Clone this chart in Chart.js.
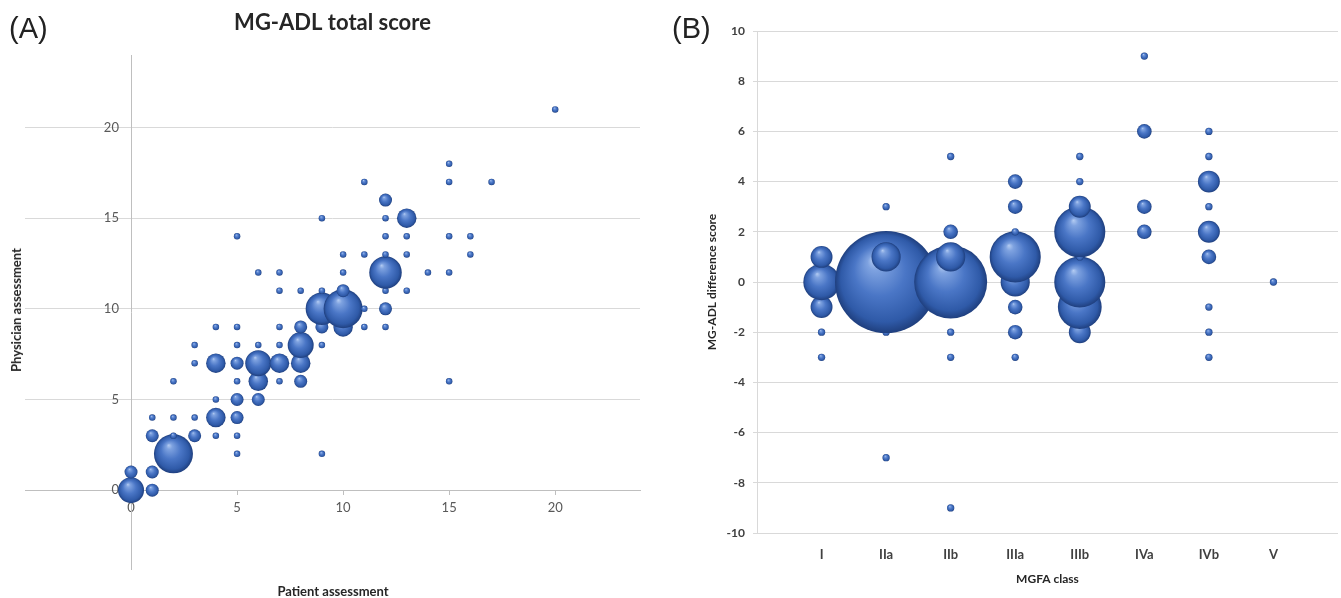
<!DOCTYPE html>
<html>
<head>
<meta charset="utf-8">
<script src="https://cdn.jsdelivr.net/npm/chart.js@4.4.1/dist/chart.umd.min.js"></script>
<style>
  html, body { margin: 0; padding: 0; background: #fff; }
  body { width: 1341px; height: 598px; position: relative; overflow: hidden; }
  .panel { position: absolute; top: 0; height: 598px; }
  #panelA { left: 0; width: 670px; }
  #panelB { left: 670px; width: 671px; }
  .tag { position: absolute; top: 14px; font: 29px 'Liberation Sans', Arial, sans-serif; color: #222; line-height: 1; }
  .axis-title { position: absolute; font: bold 13px Lato, sans-serif; color: #262626; white-space: nowrap; transform: translate(-50%, -50%); }
  .axis-title.vert { transform: translate(-50%, -50%) rotate(-90deg); }
</style>
</head>
<body>
<div class="panel" id="panelA"><canvas id="chartA"></canvas></div>
<div class="panel" id="panelB"><canvas id="chartB"></canvas></div>

<div class="tag" style="left:9px">(A)</div>
<div class="tag" style="left:672px">(B)</div>
<div class="axis-title vert" style="left:16px; top:310px">Physician assessment</div>
<div class="axis-title" style="left:333px; top:591px">Patient assessment</div>

<script>
// ── PANEL A: patient vs physician MG-ADL total score (bubble = number of patients) ──
const patientScore = [
    0, 0,
    1, 1, 1, 1,
    2, 2, 2, 2,
    3, 3, 3, 3,
    4, 4, 4, 4, 4,
    5, 5, 5, 5, 5, 5, 5, 5, 5,
    6, 6, 6, 6, 6,
    7, 7, 7, 7, 7, 7,
    8, 8, 8, 8, 8,
    9, 9, 9, 9, 9, 9,
    10, 10, 10, 10, 10,
    11, 11, 11, 11,
    12, 12, 12, 12, 12, 12, 12, 12,
    13, 13, 13, 13,
    14,
    15, 15, 15, 15, 15,
    16, 16,
    17,
    20
];
const physicianScore = [
    0, 1,
    0, 1, 3, 4,
    2, 3, 4, 6,
    3, 4, 7, 8,
    3, 4, 5, 7, 9,
    2, 3, 4, 5, 6, 7, 8, 9, 14,
    5, 6, 7, 8, 12,
    6, 7, 8, 9, 11, 12,
    6, 7, 8, 9, 11,
    2, 8, 9, 10, 11, 15,
    9, 10, 11, 12, 13,
    9, 10, 13, 17,
    9, 10, 11, 12, 13, 14, 15, 16,
    11, 13, 14, 15,
    12,
    6, 12, 14, 17, 18,
    13, 14,
    17,
    21
];
const patientCount = [
    4, 2,
    2, 2, 2, 1,
    6, 1, 1, 1,
    2, 1, 1, 1,
    1, 3, 1, 3, 1,
    1, 1, 2, 2, 1, 2, 1, 1, 1,
    2, 3, 4, 1, 1,
    1, 3, 1, 1, 1, 1,
    2, 3, 4, 2, 1,
    1, 1, 2, 5, 1, 1,
    3, 6, 2, 1, 1,
    1, 1, 1, 1,
    1, 2, 1, 5, 1, 1, 1, 2,
    1, 1, 1, 3,
    1,
    1, 1, 1, 1, 1,
    1, 1,
    1,
    1
];
const totalTicks = [0, 5, 10, 15, 20];

// ── PANEL B: MG-ADL difference score by MGFA class ──
const mgfaClasses = ['I', 'IIa', 'IIb', 'IIIa', 'IIIb', 'IVa', 'IVb', 'V'];
const diffClass = [
    1, 1, 1, 1, 1,
    2, 2, 2, 2, 2,
    3, 3, 3, 3, 3, 3, 3,
    4, 4, 4, 4, 4, 4, 4, 4,
    5, 5, 5, 5, 5, 5, 5, 5,
    6, 6, 6, 6,
    7, 7, 7, 7, 7, 7, 7, 7, 7,
    8
];
const diffScore = [
    -3, -2, -1, 0, 1,
    -7, -2, 0, 1, 3,
    -9, -3, -2, 0, 1, 2, 5,
    -3, -2, -1, 0, 1, 2, 3, 4,
    -2, -1, 0, 1, 2, 3, 4, 5,
    2, 3, 6, 9,
    -3, -2, -1, 1, 2, 3, 4, 5, 6,
    0
];
const diffCount = [
    1, 1, 3, 5, 3,
    1, 1, 14, 4, 1,
    1, 1, 1, 10, 4, 2, 1,
    1, 2, 2, 4, 7, 1, 2, 2,
    3, 6, 7, 1, 7, 3, 1, 1,
    2, 2, 2, 1,
    1, 1, 1, 2, 3, 1, 3, 1, 1,
    1
];

// bubble width is proportional to the count (Excel "width" sizing)
const radiusA = 3.25;
const radiusB = 3.65;

const pointsA = patientScore.map((x, i) => ({ x: x, y: physicianScore[i], r: patientCount[i] * radiusA }));
const pointsB = diffClass.map((x, i) => ({ x: x, y: diffScore[i], r: diffCount[i] * radiusB }));

// glossy 3D sphere look
function sphereFill(context) {
    const chart = context.chart;
    const raw = context.raw;
    if (!raw || !chart.chartArea) return '#3e6bbd';
    const cx = chart.scales.x.getPixelForValue(raw.x);
    const cy = chart.scales.y.getPixelForValue(raw.y);
    const r = raw.r;
    const g = chart.ctx.createRadialGradient(cx - r * 0.25, cy - r * 0.45, 0, cx, cy, r);
    g.addColorStop(0, '#b4ccf2');
    g.addColorStop(0.15, '#7ea2e0');
    g.addColorStop(0.5, '#4a76c6');
    g.addColorStop(0.85, '#2f5aa8');
    g.addColorStop(1, '#1f3f7e');
    return g;
}

const baseFont = "Lato, 'Open Sans', sans-serif";

// ── CHART A ──
new Chart(document.getElementById('chartA'), {
    type: 'bubble',
    data: {
        datasets: [{ data: pointsA, backgroundColor: sphereFill, borderWidth: 0 }]
    },
    options: {
        responsive: true,
        maintainAspectRatio: false,
        animation: false,
        events: [],
        layout: { autoPadding: false, padding: { left: 25, right: 30, top: 0, bottom: 29 } },
        plugins: {
            legend: { display: false },
            tooltip: { enabled: false },
            title: {
                display: true,
                text: 'MG-ADL total score',
                color: '#262626',
                font: { family: baseFont, size: 22, weight: 'bold', lineHeight: 1.2 },
                padding: { top: 10, bottom: 18.6 }
            }
        },
        scales: {
            x: {
                type: 'linear',
                min: -5,
                max: 24,
                position: { y: 0 },
                afterBuildTicks: axis => { axis.ticks = totalTicks.map(v => ({ value: v })); },
                grid: { drawOnChartArea: false, drawTicks: true, tickLength: 4, color: '#bfbfbf' },
                border: { color: '#bfbfbf', width: 1 },
                ticks: { color: '#595959', font: { family: baseFont, size: 13 }, padding: 6, maxRotation: 0, autoSkip: false }
            },
            // axis line, tick marks and grid through x = 0
            y: {
                type: 'linear',
                min: -4.35,
                max: 24,
                position: { x: 0 },
                afterBuildTicks: axis => { axis.ticks = totalTicks.map(v => ({ value: v })); },
                grid: { color: '#d9d9d9', tickLength: 4 },
                border: { color: '#bfbfbf', width: 1 },
                ticks: { display: false }
            },
            // the y tick labels, set a little left of the axis line
            yLabels: {
                type: 'linear',
                axis: 'y',
                min: -4.35,
                max: 24,
                position: { x: -0.57 },
                afterBuildTicks: axis => { axis.ticks = totalTicks.map(v => ({ value: v })); },
                grid: { display: false, drawTicks: false },
                border: { display: false },
                ticks: { padding: 0, color: '#595959', font: { family: baseFont, size: 13 }, autoSkip: false }
            }
        }
    }
});

// ── CHART B ──
new Chart(document.getElementById('chartB'), {
    type: 'bubble',
    data: {
        datasets: [{ data: pointsB, backgroundColor: sphereFill, borderWidth: 0 }]
    },
    options: {
        responsive: true,
        maintainAspectRatio: false,
        animation: false,
        events: [],
        layout: { autoPadding: false, padding: { left: 0, right: 3, top: 31, bottom: 0 } },
        plugins: {
            legend: { display: false },
            tooltip: { enabled: false }
        },
        scales: {
            x: {
                type: 'linear',
                min: 0,
                max: 9,
                afterBuildTicks: axis => { axis.ticks = mgfaClasses.map((c, i) => ({ value: i + 1 })); },
                afterFit: scale => { scale.height = 65; },
                grid: { display: false, drawTicks: false },
                border: { display: false },
                ticks: {
                    callback: v => mgfaClasses[v - 1],
                    color: '#404040',
                    font: { family: baseFont, size: 13, weight: 'bold' },
                    padding: 14,
                    maxRotation: 0,
                    autoSkip: false
                },
                title: {
                    display: true,
                    text: 'MGFA class',
                    color: '#262626',
                    font: { family: baseFont, size: 12, weight: 'bold', lineHeight: 1.2 },
                    padding: { top: 0, bottom: 12 }
                }
            },
            y: {
                type: 'linear',
                min: -10,
                max: 10,
                afterFit: scale => { scale.width = 87; },
                grid: { color: '#d9d9d9', tickLength: 4 },
                border: { color: '#d9d9d9', width: 1 },
                ticks: {
                    stepSize: 2,
                    color: '#404040',
                    font: { family: baseFont, size: 12, weight: 'bold' },
                    padding: 8
                },
                title: {
                    display: true,
                    text: 'MG-ADL difference score',
                    color: '#262626',
                    font: { family: baseFont, size: 12, weight: 'bold', lineHeight: 1.2 },
                    padding: { top: 35, bottom: 0 }
                }
            }
        }
    }
});
</script>
</body>
</html>
